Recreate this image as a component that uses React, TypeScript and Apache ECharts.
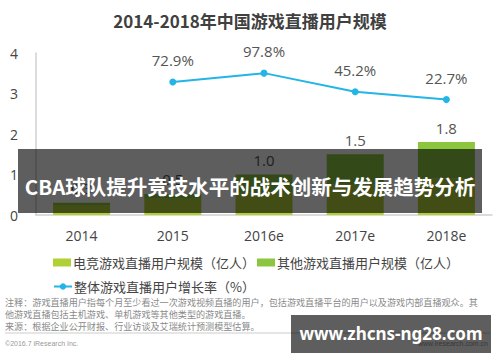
import React, { useEffect, useRef } from "react";
import * as echarts from "echarts";

const categories = ["2014", "2015", "2016e", "2017e", "2018e"];
const esportsUsers = [0.25, 0.4, 0.55, 0.75, 0.9];
const otherUsers = [0.05, 0.12, 0.45, 0.75, 0.9];
const growthRate: (number | null)[] = [null, 72.9, 97.8, 45.2, 22.7];
const yTicks = [0, 1, 2, 3, 4];

const FONT = "'Open Sans','Noto Sans CJK SC',sans-serif";
const CJK = "'Noto Sans CJK SC','Open Sans',sans-serif";

export default function App() {
  const ref = useRef<HTMLDivElement>(null);
  useEffect(() => {
    if (!ref.current) return;
    const chart = echarts.init(ref.current, null, { renderer: "svg" });
    const option: any = {
      animation: false,
      backgroundColor: "#ffffff",
      title: {
        text: "2014-2018年中国游戏直播用户规模",
        left: "center",
        top: 7,
        textStyle: { fontFamily: CJK, fontSize: 17, fontWeight: "bold", color: "#404040" },
      },
      grid: { left: 36, right: 8, top: 53, bottom: 147 },
      legend: [
        {
          data: ["电竞游戏直播用户规模（亿人）", "其他游戏直播用户规模（亿人）"],
          left: 48,
          top: 251,
          icon: "rect",
          itemWidth: 18,
          itemHeight: 8,
          itemGap: 2,
          textStyle: { fontFamily: CJK, fontSize: 13, color: "#444", padding: [0, 0, 0, -3] },
        },
        {
          data: ["整体游戏直播用户增长率（%）"],
          left: 48,
          top: 275,
          itemWidth: 18,
          itemHeight: 8,
          textStyle: { fontFamily: CJK, fontSize: 13, color: "#444", padding: [0, 0, 0, -3] },
        },
      ],
      xAxis: {
        type: "category",
        data: categories,
        axisLine: { lineStyle: { color: "#d0d0d0", width: 1.5 } },
        axisTick: { show: false },
        axisLabel: { fontFamily: FONT, fontSize: 14, color: "#444", margin: 13 },
      },
      yAxis: [
        {
          type: "value",
          min: yTicks[0],
          max: yTicks[yTicks.length - 1],
          interval: 1,
          axisLine: { show: true, lineStyle: { color: "#d0d0d0", width: 1.5 } },
          axisTick: { show: false },
          splitLine: { show: false },
          axisLabel: { fontFamily: FONT, fontSize: 14, color: "#444", margin: 18 },
        },
        {
          type: "value",
          min: -305,
          max: 155,
          show: false,
          splitLine: { show: false },
        },
      ],
      series: [
        {
          name: "电竞游戏直播用户规模（亿人）",
          type: "bar",
          stack: "users",
          data: esportsUsers,
          barWidth: 57,
          itemStyle: { color: "#b0d136" },
        },
        {
          name: "其他游戏直播用户规模（亿人）",
          type: "bar",
          stack: "users",
          data: otherUsers,
          barWidth: 57,
          itemStyle: { color: "#8cc63f" },
          label: {
            show: true,
            position: "top",
            distance: 7,
            fontFamily: FONT,
            fontSize: 15,
            color: "#555",
            formatter: (p: any) => (esportsUsers[p.dataIndex] + otherUsers[p.dataIndex]).toFixed(1),
          },
        },
        {
          name: "整体游戏直播用户增长率（%）",
          type: "line",
          yAxisIndex: 1,
          data: growthRate,
          symbol: "circle",
          symbolSize: 7,
          lineStyle: { color: "#22b5e6", width: 2 },
          itemStyle: { color: "#22b5e6" },
          label: {
            show: true,
            position: "top",
            distance: 11,
            fontFamily: FONT,
            fontSize: 15,
            color: "#555",
            formatter: (p: any) => p.value + "%",
          },
        },
      ],
      graphic: [
        {
          type: "text",
          left: 5,
          top: 296,
          style: {
            text: "注释：游戏直播用户指每个月至少看过一次游戏视频直播的用户，包括游戏直播平台的用户以及游戏内部直播观众。其\n他游戏直播包括主机游戏、单机游戏等其他类型的游戏直播。\n来源：根据企业公开财报、行业访谈及艾瑞统计预测模型估算。",
            font: "9.1px 'Noto Sans CJK SC', sans-serif",
            lineHeight: 12,
            fill: "#8a8a8a",
          },
        },
        {
          type: "line",
          shape: { x1: 5, y1: 333, x2: 490, y2: 333 },
          style: { stroke: "#cccccc", lineWidth: 1 },
        },
        {
          type: "text",
          left: 5,
          top: 340,
          style: { text: "©2016.7 iResearch Inc.", font: "7px 'Liberation Sans', sans-serif", fill: "#999" },
        },
        {
          type: "text",
          right: 12,
          top: 340,
          style: { text: "www.iresearch.com.cn", font: "7px 'Liberation Sans', sans-serif", fill: "#999" },
        },
        {
          type: "rect",
          shape: { x: 18, y: 149, width: 464, height: 64 },
          style: { fill: "rgba(0,0,0,0.63)" },
          z: 100,
        },
        {
          type: "text",
          x: 250,
          y: 186,
          z: 101,
          style: {
            text: "CBA球队提升竞技水平的战术创新与发展趋势分析",
            font: "bold 20.5px 'Noto Sans CJK SC', sans-serif",
            fill: "#ffffff",
            align: "center",
            verticalAlign: "middle",
          },
        },
        {
          type: "rect",
          shape: { x: 291, y: 315, width: 200, height: 38 },
          style: { fill: "rgba(0,0,0,0.63)" },
          z: 100,
        },
        {
          type: "text",
          x: 391,
          y: 333,
          z: 101,
          style: {
            text: "www.zhcns-ng28.com",
            font: "bold 17px 'Noto Sans', 'Open Sans', sans-serif",
            fill: "#ffffff",
            align: "center",
            verticalAlign: "middle",
          },
        },
      ],
    };
    chart.setOption(option);
    return () => chart.dispose();
  }, []);
  return (
    <div
      ref={ref}
      style={{ position: "fixed", left: 0, top: 0, width: 500, height: 362 }}
    />
  );
}
